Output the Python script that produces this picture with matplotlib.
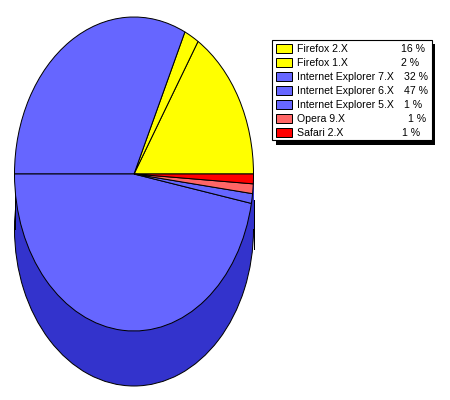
import matplotlib
matplotlib.use("Agg")
import matplotlib.pyplot as plt
from matplotlib.patches import Rectangle

labels = ["Firefox 2.X", "Firefox 1.X", "Internet Explorer 7.X", "Internet Explorer 6.X",
          "Internet Explorer 5.X", "Opera 9.X", "Safari 2.X"]
values = [16, 2, 32, 47, 1, 1, 1]
colors = ["#ffff00", "#ffff00", "#6666ff", "#6666ff", "#6666ff", "#ff6666", "#ff0000"]
side_color = "#3333cc"

plt.rcParams["font.family"] = ["Liberation Sans", "DejaVu Sans"]
W, H = 450, 400
fig = plt.figure(figsize=(W / 100, H / 100), dpi=100, facecolor="white")

CX, CY, RX, RY, DEPTH = 134, 174, 119.5, 157, 55
pie_ax = fig.add_axes([0, 0, 1, 1])
edge = dict(edgecolor="black", linewidth=0.72)

# side of the drum: one dark body, only its lower rim is visible
pie_ax.pie([sum(values)], center=(0, -DEPTH / RY), radius=1, colors=[side_color], startangle=90,
           wedgeprops=edge)
pie_ax.add_patch(Rectangle((-1, -DEPTH / RY), 2, DEPTH / RY, facecolor=side_color, edgecolor="none", zorder=1.5))
pie_ax.plot([-1, -1], [0, -DEPTH / RY], color="black", lw=0.72, zorder=1.6)
pie_ax.plot([1, 1], [-26 / RY, -75 / RY], color="black", lw=0.72, zorder=1.6)
wedges, _ = pie_ax.pie(values, center=(0, 0), radius=1, colors=colors, startangle=0,
                       counterclock=True, wedgeprops=edge)
for w in wedges:
    w.set_zorder(2)
pie_ax.set_aspect("auto")
pie_ax.set_xlim((0 - CX) / RX, (W - CX) / RX)
pie_ax.set_ylim((CY - H) / RY, (CY - 0) / RY)
pie_ax.set_axis_off()

# legend, in pixels
leg = fig.add_axes([0, 0, 1, 1], facecolor="none")
leg.set_xlim(0, W)
leg.set_ylim(H, 0)
leg.set_axis_off()
leg.add_patch(Rectangle((276, 44), 159, 100.5, facecolor="black", edgecolor="none"))
leg.add_patch(Rectangle((272, 39.5), 159.5, 100.5, facecolor="white", edgecolor="black", linewidth=0.8))
row_y = [48.3, 62.3, 76.7, 90.3, 104.2, 118.3, 132]
pct_x = [400.7, 400.7, 403.7, 403.7, 404, 408, 401.7]
for lab, val, col, y, px in zip(labels, values, colors, row_y, pct_x):
    leg.add_patch(Rectangle((276, y - 4.5), 16, 9, facecolor=col, edgecolor="black", linewidth=0.72))
    leg.text(297, y + 0.5, lab, fontsize=7.6, va="center", ha="left", color="black")
    leg.text(px, y + 0.5, f"{val} %", fontsize=7.6, va="center", ha="left", color="black")

fig.savefig("out.png", dpi=100, facecolor="white")
